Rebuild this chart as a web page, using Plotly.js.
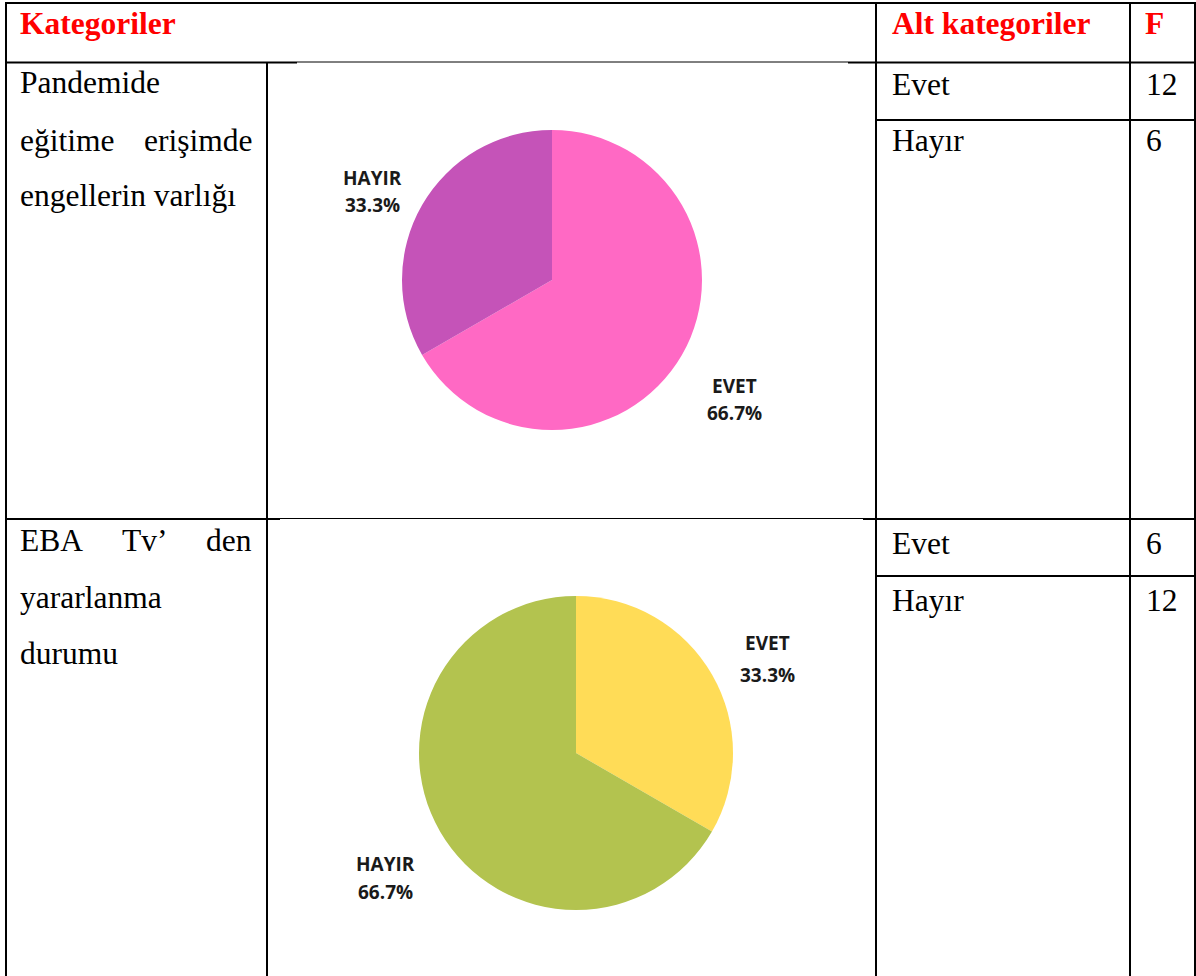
<!DOCTYPE html>
<html>
<head>
<meta charset="utf-8">
<script src="https://cdn.plot.ly/plotly-3.0.1.min.js"></script>
<style>html,body{margin:0;padding:0;background:#fff;} #chart{width:1196px;height:976px;}</style>
</head>
<body>
<div id="chart"></div>
<script>
// ---- Data ----
const headers = ["Kategoriler", "Alt kategoriler", "F"];
const categoryLines1 = [["Pandemide"], ["eğitime", "erişimde"], ["engellerin varlığı"]];
const categoryLines2 = [["EBA", "Tv’", "den"], ["yararlanma"], ["durumu"]];
const subCategories = ["Evet", "Hayır"];
const freq1 = [12, 6];
const freq2 = [6, 12];
const pieLabels = ["EVET", "HAYIR"];
const colors1 = ["#ff69c4", "#c553b8"];
const colors2 = ["#ffdc57", "#b3c34f"];

// ---- Layout helpers ----
const W = 1196, H = 976;
const px = x => x / W;
const py = y => 1 - y / H;
const serif = "'Liberation Serif', 'Times New Roman', serif";
const FS = 31.5;

const ctx = document.createElement("canvas").getContext("2d");
ctx.font = FS + "px 'Liberation Serif'";

const annotations = [];
function txt(text, x, baseline, opts) {
  opts = opts || {};
  const anchor = opts.anchor || "left";
  const dx = anchor === "left" ? -2 : (anchor === "right" ? 2 : 0);
  annotations.push({
    xref: "paper", yref: "paper", x: px(x + dx), y: py(baseline - 10),
    xanchor: anchor, yanchor: "middle",
    text: opts.bold ? "<b>" + text + "</b>" : text,
    showarrow: false,
    font: {family: serif, size: FS, color: opts.color || "#000"}
  });
}
function justifiedLine(words, x0, x1, baseline, justify) {
  if (words.length === 1 || !justify) {
    txt(words.join(" "), x0, baseline);
    return;
  }
  const widths = words.map(w => ctx.measureText(w).width);
  const total = widths.reduce((a, b) => a + b, 0);
  const gap = (x1 - x0 - total) / (words.length - 1);
  let x = x0;
  words.forEach((w, i) => {
    if (i === words.length - 1) txt(w, x1, baseline, {anchor: "right"});
    else if (i === 0) txt(w, x0, baseline);
    else txt(w, x + widths[i] / 2, baseline, {anchor: "center"});
    x += widths[i] + gap;
  });
}

// Header
const red = "#ff0000";
txt(headers[0], 20, 33, {bold: true, color: red});
txt(headers[1], 892, 33, {bold: true, color: red});
txt(headers[2], 1145, 33, {bold: true, color: red});

// Row 1
const row1Base = [93, 150, 206];
categoryLines1.forEach((ln, i) => justifiedLine(ln, 20, 252, row1Base[i], i < categoryLines1.length - 1));
txt(subCategories[0], 892, 94); txt(String(freq1[0]), 1146, 94);
txt(subCategories[1], 892, 150); txt(String(freq1[1]), 1146, 150);

// Row 2
const row2Base = [550, 607, 663];
categoryLines2.forEach((ln, i) => justifiedLine(ln, 20, 252, row2Base[i], i < categoryLines2.length - 1));
txt(subCategories[0], 892, 553); txt(String(freq2[0]), 1146, 553);
txt(subCategories[1], 892, 610); txt(String(freq2[1]), 1146, 610);

// Pie labels
function pct(vals, i) {
  const s = vals.reduce((a, b) => a + b, 0);
  return (vals[i] / s * 100).toFixed(1) + "%";
}
function pieLabel(text, x, y) {
  annotations.push({
    xref: "paper", yref: "paper", x: px(x), y: py(y), xanchor: "center", yanchor: "middle",
    text: "<b>" + text + "</b>", showarrow: false,
    font: {family: "'Open Sans', 'Noto Sans', sans-serif", size: 19, color: "#1a1a1a"}
  });
}
pieLabel(pieLabels[1], 372, 178); pieLabel(pct(freq1, 1), 372, 205);
pieLabel(pieLabels[0], 734, 386); pieLabel(pct(freq1, 0), 734, 413);
pieLabel(pieLabels[0], 767, 643); pieLabel(pct(freq2, 0), 767, 675);
pieLabel(pieLabels[1], 385, 864); pieLabel(pct(freq2, 1), 385, 892);

// Table lines
const shapes = [];
function line(x0, y0, x1, y1, w) {
  shapes.push({type: "line", xref: "paper", yref: "paper",
    x0: px(x0), y0: py(y0), x1: px(x1), y1: py(y1),
    line: {color: "#000", width: w}});
}
line(5, 3, 1196, 3, 2);          // top border
line(6, 2, 6, 976, 2);           // left border
line(1195, 2, 1195, 976, 2);     // right border
line(876, 2, 876, 976, 2);
line(1130, 2, 1130, 976, 2);
line(267, 62, 267, 976, 2);
// header bottom
line(5, 62.5, 297, 62.5, 2);
line(297, 62, 848, 62, 1);
line(848, 62.5, 1196, 62.5, 2);
// row 1 inner
line(876, 120, 1196, 120, 2);
// row 1 bottom
line(5, 519, 280, 519, 2);
line(280, 518.5, 863, 518.5, 1);
line(863, 519, 1196, 519, 2);
// row 2 inner
line(876, 576, 1196, 576, 2);

const traces = [
  {type: "pie", labels: pieLabels, values: freq1, sort: false, direction: "clockwise", rotation: 0,
   marker: {colors: colors1, line: {width: 0}}, textinfo: "none", hoverinfo: "skip",
   domain: {x: [px(402), px(702)], y: [py(430), py(130)]}},
  {type: "pie", labels: pieLabels, values: freq2, sort: false, direction: "clockwise", rotation: 0,
   marker: {colors: colors2, line: {width: 0}}, textinfo: "none", hoverinfo: "skip",
   domain: {x: [px(419), px(733)], y: [py(910), py(596)]}}
];

Plotly.newPlot("chart", traces, {
  width: W, height: H, margin: {l: 0, r: 0, t: 0, b: 0},
  paper_bgcolor: "#fff", plot_bgcolor: "#fff", showlegend: false,
  annotations: annotations, shapes: shapes
}, {displayModeBar: false, staticPlot: true});
</script>
</body>
</html>
